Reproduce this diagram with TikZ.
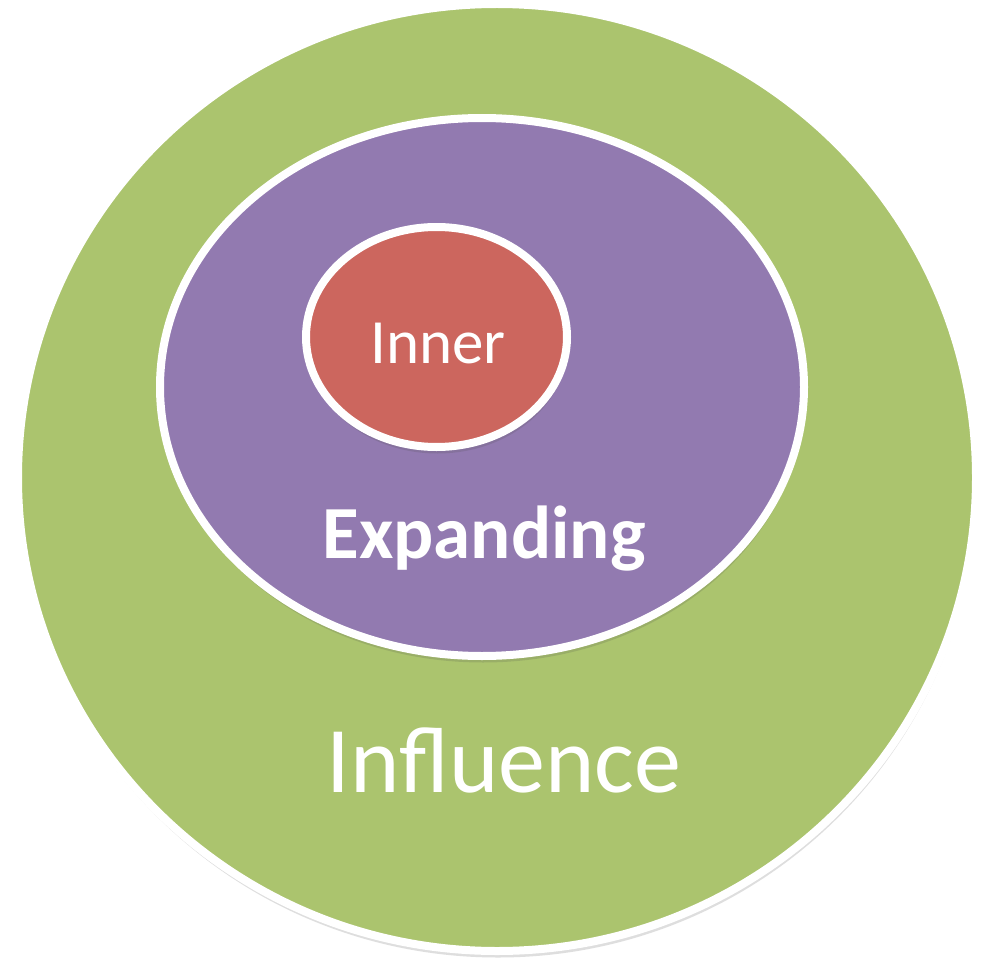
\documentclass[tikz,border=0pt]{standalone}
\usepackage{fontspec}
\setmainfont{Carlito}
\usetikzlibrary{shadows}
\definecolor{ringgreen}{RGB}{171,196,110}
\definecolor{ringpurple}{RGB}{146,122,176}
\definecolor{ringred}{RGB}{204,102,94}
\begin{document}
\begin{tikzpicture}[x=1pt,y=-1pt,
  ring/.style={draw=white,line width=8pt,
    drop shadow={opacity=0.18,shadow xshift=1pt,shadow yshift=-6.5pt,fill=black!70}},
  lbl/.style={text=white,anchor=base,inner sep=0pt}]
\useasboundingbox (0,0) rectangle (983,971);
\fill[white] (0,0) rectangle (983,971);
\path[ring,fill=ringgreen] (497,477.5) ellipse [x radius=479, y radius=473.5];
\path[ring,fill=ringpurple] (482,387) ellipse [x radius=322, y radius=269];
\path[ring,fill=ringred] (436.5,337) ellipse [x radius=130.5, y radius=110];
\node[lbl,font=\fontsize{63}{70}\selectfont] (inner) at (438,363) {Inner};
\node[lbl,font=\fontsize{75}{85}\selectfont\bfseries] (expanding) at (484,558) {Expanding};
\node[lbl,font=\fontsize{94}{104}\selectfont] (influence) at (504,792) {Influence};
\end{tikzpicture}
\end{document}
